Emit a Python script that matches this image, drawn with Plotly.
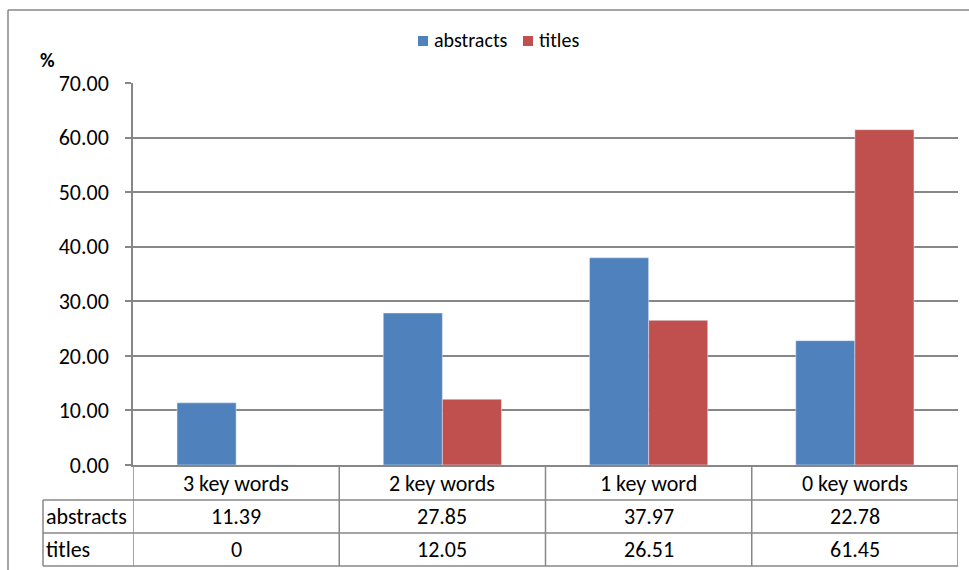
import plotly.graph_objects as go

categories = ["3 key words", "2 key words", "1 key word", "0 key words"]
abstracts = [11.39, 27.85, 37.97, 22.78]
titles = [0, 12.05, 26.51, 61.45]
abstracts_text = ["11.39", "27.85", "37.97", "22.78"]
titles_text = ["0", "12.05", "26.51", "61.45"]
series_names = ["abstracts", "titles"]
y_ticks = [0, 10, 20, 30, 40, 50, 60, 70]

W, H = 969, 570
L, R, T, B = 133, 958, 83, 465
FONT = "Carlito, Lato, 'Liberation Sans', sans-serif"
GRAY = "#878787"
BLUE = "#4F81BD"
RED = "#C0504D"
colors = [BLUE, RED]


def px(p):
    return (p - L) / (R - L)


def py(p):
    return (B - p) / (B - T)


fig = go.Figure()
fig.add_trace(go.Bar(x=categories, y=abstracts, name=series_names[0], marker_color=BLUE, showlegend=False))
fig.add_trace(go.Bar(x=categories, y=titles, name=series_names[1], marker_color=RED, showlegend=False))

shapes = []
annotations = []

# outer chart border (top and left)
shapes.append(dict(type="line", xref="paper", yref="paper", x0=px(8), x1=px(969), y0=py(10), y1=py(10),
                   line=dict(color=GRAY, width=1.5)))
shapes.append(dict(type="line", xref="paper", yref="paper", x0=px(8), x1=px(8), y0=py(10), y1=py(572),
                   line=dict(color=GRAY, width=1.5)))

# legend
leg_sq_x = [418, 523]
leg_font = dict(family=FONT, size=20, color="#000000")
for k in range(2):
    shapes.append(dict(type="rect", xref="paper", yref="paper", x0=px(leg_sq_x[k]), x1=px(leg_sq_x[k] + 10),
                       y0=py(36), y1=py(46), fillcolor=colors[k], line=dict(width=0)))
    annotations.append(dict(x=px(leg_sq_x[k] + 14), y=py(40.5), xref="paper", yref="paper", text=series_names[k],
                            showarrow=False, font=leg_font, xanchor="left", yanchor="middle"))

# data table lines
row_y = [465, 500, 533, 566]
for yy in row_y[1:]:
    shapes.append(dict(type="line", xref="paper", yref="paper", x0=px(43), x1=px(R), y0=py(yy), y1=py(yy),
                       line=dict(color=GRAY, width=1.5)))
n = len(categories)
for i in range(n + 1):
    shapes.append(dict(type="line", xref="x", yref="paper", x0=i - 0.5, x1=i - 0.5, y0=py(465), y1=py(566),
                       line=dict(color=GRAY, width=1.5)))
shapes.append(dict(type="line", xref="paper", yref="paper", x0=px(43), x1=px(43), y0=py(500), y1=py(566),
                   line=dict(color=GRAY, width=1.5)))

tfont = dict(family=FONT, size=22, color="#000000")
for i, c in enumerate(categories):
    annotations.append(dict(x=c, y=py(483), xref="x", yref="paper", text=c, showarrow=False, font=tfont,
                            xanchor="center", yanchor="middle"))
    annotations.append(dict(x=c, y=py(516.5), xref="x", yref="paper", text=abstracts_text[i], showarrow=False,
                            font=tfont, xanchor="center", yanchor="middle"))
    annotations.append(dict(x=c, y=py(549.5), xref="x", yref="paper", text=titles_text[i], showarrow=False,
                            font=tfont, xanchor="center", yanchor="middle"))
annotations.append(dict(x=px(44), y=py(516.5), xref="paper", yref="paper", text=series_names[0], showarrow=False,
                        font=tfont, xanchor="left", yanchor="middle"))
annotations.append(dict(x=px(44), y=py(549.5), xref="paper", yref="paper", text=series_names[1], showarrow=False,
                        font=tfont, xanchor="left", yanchor="middle"))
annotations.append(dict(x=px(38), y=py(60), xref="paper", yref="paper", text="<b>%</b>", showarrow=False,
                        font=dict(family=FONT, size=20, color="#000000"), xanchor="left", yanchor="middle"))

fig.update_layout(
    width=W, height=H,
    margin=dict(l=L, r=W - R, t=T, b=H - B, pad=0),
    paper_bgcolor="white", plot_bgcolor="white",
    barmode="group", bargap=0.427, bargroupgap=0,
    font=dict(family=FONT, size=22, color="#000000"),
    showlegend=False,
    shapes=shapes, annotations=annotations,
    xaxis=dict(showticklabels=False, ticks="", showgrid=False, showline=True, linecolor=GRAY, linewidth=1.5,
               zeroline=False, range=[-0.5, n - 0.5]),
    yaxis=dict(range=[0, 70], tickvals=y_ticks, tickformat=".2f", ticks="outside", ticklen=6, tickcolor=GRAY,
               tickwidth=1.5, showgrid=True, gridcolor=GRAY, gridwidth=1.5, showline=True, linecolor=GRAY,
               linewidth=1.5, zeroline=False, ticklabelstandoff=12,
               tickfont=dict(family=FONT, size=22, color="#000000")),
)

fig.write_html("out.html")
